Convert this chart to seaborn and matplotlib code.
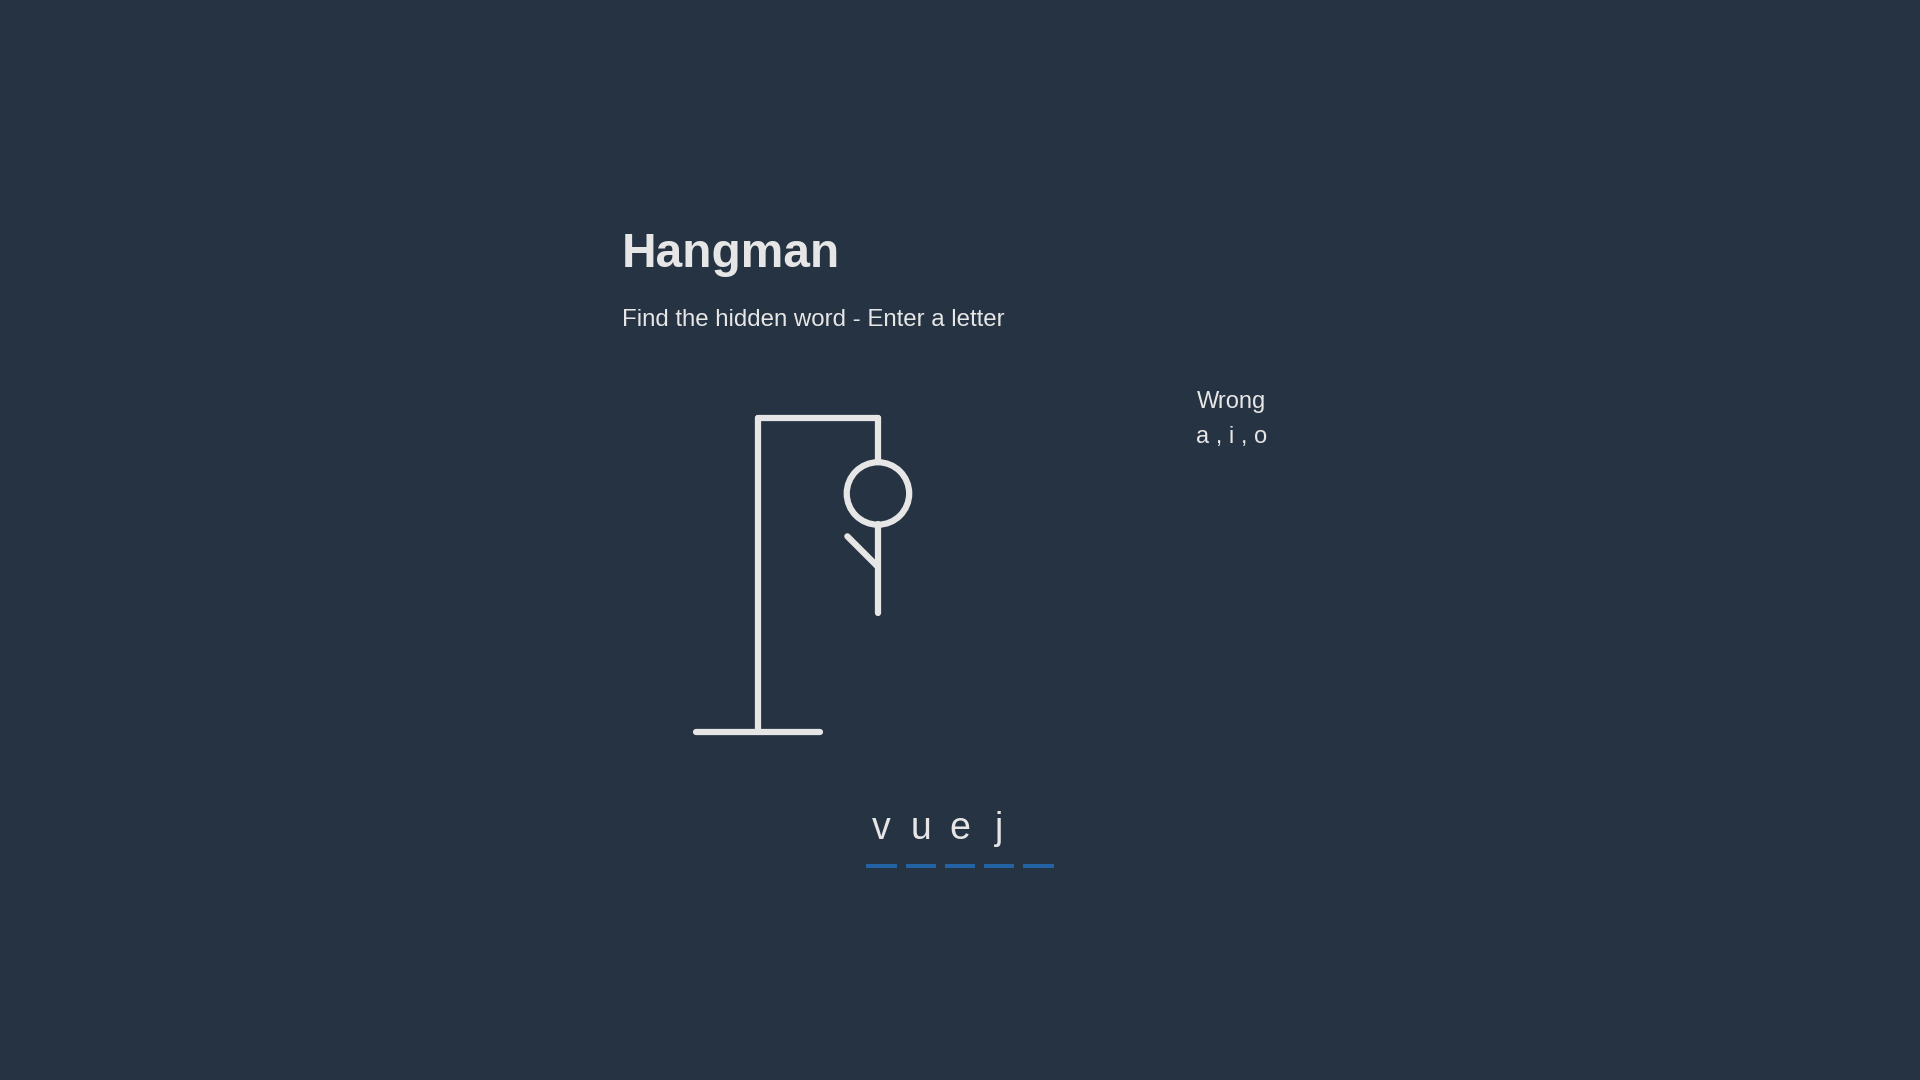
import matplotlib
matplotlib.use("Agg")
import matplotlib.pyplot as plt
import seaborn as sns
import pandas as pd
from matplotlib.patches import Circle

title = "Hangman"
subtitle = "Find the hidden word - Enter a letter"
wrong_label = "Wrong"
wrong_letters = ["a", "i", "o"]
word_slots = ["v", "u", "e", "j", ""]

BG = "#263343"
FG = "#e6e6e6"
BLUE = "#2362a3"

sns.set_theme(style="white")
plt.rcParams['font.family'] = ['Liberation Sans', 'DejaVu Sans']

fig = plt.figure(figsize=(19.2, 10.8), dpi=100, facecolor=BG)
ax = fig.add_axes([0, 0, 1, 1])
ax.set_facecolor(BG)

ax.text(508, 208, title, color=FG, fontsize=34.5, fontweight="bold", va="center", ha="left")
ax.text(508, 261, subtitle, color=FG, fontsize=17.3, va="center", ha="left")

ax.text(1006, 328, wrong_label, color=FG, fontsize=17, va="center", ha="center")
ax.text(1006, 357, " , ".join(wrong_letters), color=FG, fontsize=17, va="center", ha="center")

segs = [((568, 598), (670, 598)), ((619, 598), (619, 341)), ((619, 341), (717, 341)),
        ((717, 341), (717, 377)), ((717, 428), (717, 501)), ((692, 438), (717, 463))]
rows = []
for i, (a, b) in enumerate(segs):
    rows += [dict(seg=i, x=a[0], y=a[1]), dict(seg=i, x=b[0], y=b[1])]
df = pd.DataFrame(rows)
sns.lineplot(data=df, x="x", y="y", units="seg", estimator=None, sort=False,
             color=FG, lw=4.5, solid_capstyle="round", ax=ax, legend=False)
ax.add_patch(Circle((717, 403), 25.5, fill=False, ec=FG, lw=4.5))

ux = [720 + 32 * i for i in range(len(word_slots))]
urows = []
for i, x in enumerate(ux):
    urows += [dict(seg=i, x=x - 12.5, y=707), dict(seg=i, x=x + 12.5, y=707)]
sns.lineplot(data=pd.DataFrame(urows), x="x", y="y", units="seg", estimator=None,
             color=BLUE, lw=3, solid_capstyle="butt", ax=ax, legend=False)
for x, ch in zip(ux, word_slots):
    ax.text(x, 677, ch, color=FG, fontsize=27, va="center", ha="center")

ax.set_xlim(0, 1568)
ax.set_ylim(882, 0)
ax.axis("off")
fig.savefig("out.png", dpi=100, facecolor=BG)
